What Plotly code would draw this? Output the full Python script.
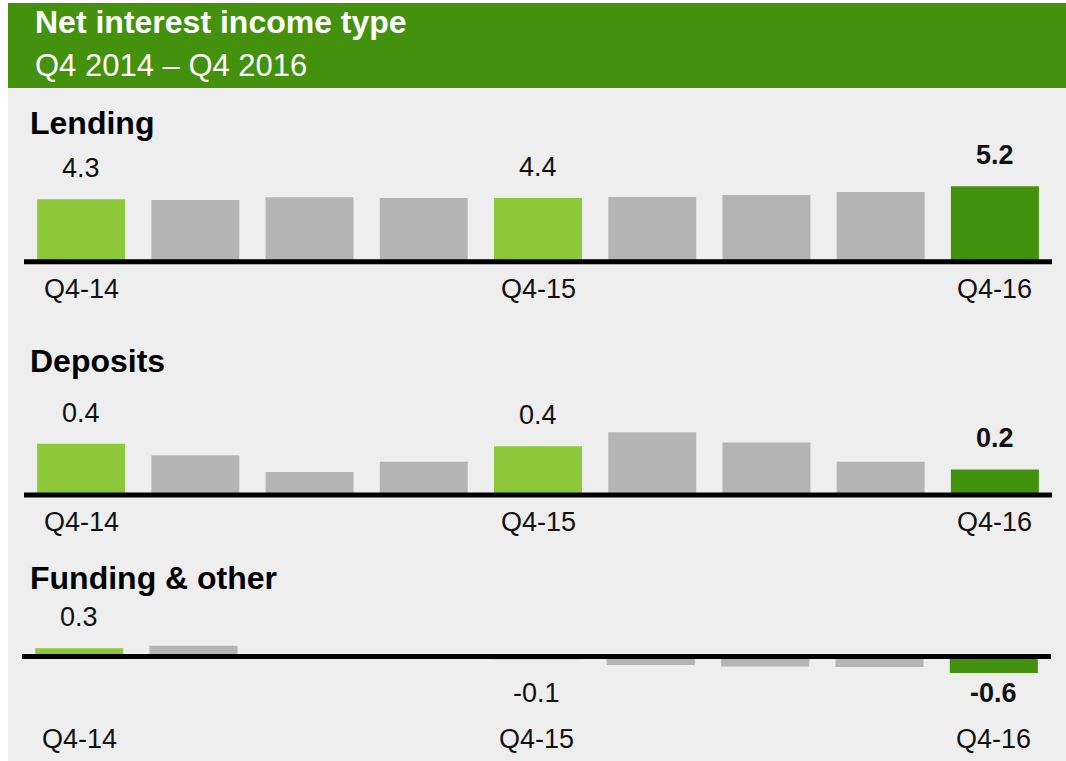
import plotly.graph_objects as go

# ---------------- data ----------------
quarters = ["Q4-14", "Q1-15", "Q2-15", "Q3-15", "Q4-15", "Q1-16", "Q2-16", "Q3-16", "Q4-16"]
shown_ticks = ["Q4-14", "Q4-15", "Q4-16"]
lending = [4.3, 4.25, 4.44, 4.39, 4.4, 4.46, 4.6, 4.81, 5.2]
deposits = [0.40, 0.31, 0.18, 0.26, 0.38, 0.49, 0.41, 0.26, 0.2]
funding = [0.3, 0.39, 0.0, 0.0, -0.1, -0.31, -0.36, -0.38, -0.6]
panel_titles = ["Lending", "Deposits", "Funding & other"]
title = "Net interest income type"
subtitle = "Q4 2014 – Q4 2016"

# ---------------- style ----------------
W, H = 1066, 761
FONT = "Liberation Sans, Arial, Helvetica, sans-serif"
BG = "#eeeeee"
HEADER = "#43910d"
LIGHT = "#8cc83a"
GRAY = "#b4b4b4"
DARK = "#43920d"
highlight = {"Q4-14": LIGHT, "Q4-15": LIGHT, "Q4-16": DARK}
colors = [highlight.get(q, GRAY) for q in quarters]


def py(p):
    return 1 - p / H


# panel geometry: (values, zero px, px per unit, top px, bottom px, x-left px, x-right px, title baseline px, tick offset px)
panels = [
    (lending, 261.7, 14.5, 140, 310, 24, 1052, 134, 27),
    (deposits, 495.0, 128.0, 385, 540, 24, 1052, 372, 27),
    (funding, 656.5, 27.5, 600, 755, 22, 1051, 589, 82.5),
]

fig = go.Figure()
annotations = []
shapes = []

# backgrounds
shapes.append(dict(type="rect", xref="paper", yref="paper", x0=8 / W, x1=1, y0=0, y1=py(3),
                   fillcolor=BG, line=dict(width=0), layer="below"))
shapes.append(dict(type="rect", xref="paper", yref="paper", x0=8 / W, x1=1, y0=py(88), y1=py(3),
                   fillcolor=HEADER, line=dict(width=0), layer="below"))

annotations.append(dict(text="<b>" + title + "</b>", xref="paper", yref="paper", x=33 / W, y=py(33 - 0.358 * 32),
                        xanchor="left", yanchor="middle", showarrow=False,
                        font=dict(family=FONT, size=32, color="white")))
annotations.append(dict(text=subtitle, xref="paper", yref="paper", x=33 / W, y=py(76.7 - 0.358 * 31),
                        xanchor="left", yanchor="middle", showarrow=False,
                        font=dict(family=FONT, size=31, color="white")))

layout_axes = {}
for i, (vals, zero, scale, top, bot, xl, xr, tb, tick_off) in enumerate(panels):
    n = "" if i == 0 else str(i + 1)
    xa, ya = "x" + n, "y" + n
    fig.add_trace(go.Bar(x=quarters, y=vals, marker=dict(color=colors, line=dict(width=0)),
                         width=0.77, xaxis=xa, yaxis=ya, hoverinfo="skip", showlegend=False))
    layout_axes["xaxis" + n] = dict(domain=[xl / W, xr / W], range=[-0.5, 8.5], type="category",
                                    visible=False, fixedrange=True, anchor=ya)
    layout_axes["yaxis" + n] = dict(domain=[py(bot), py(top)],
                                    range=[-(bot - zero) / scale, (zero - top) / scale],
                                    visible=False, fixedrange=True, anchor=xa)
    # baseline
    shapes.append(dict(type="line", xref=xa, yref=ya, x0=-0.5, x1=8.5, y0=0, y1=0,
                       line=dict(color="black", width=5), layer="above"))
    # panel title
    annotations.append(dict(text="<b>" + panel_titles[i] + "</b>", xref="paper", yref="paper",
                            x=28 / W, y=py(tb - 0.358 * 32), xanchor="left", yanchor="middle",
                            showarrow=False, font=dict(family=FONT, size=32, color="black")))
    # value labels and tick labels
    vmin = min(vals)
    for q in shown_ticks:
        v = vals[quarters.index(q)]
        txt = f"{v:.1f}"
        if q == quarters[-1]:
            txt = "<b>" + txt + "</b>"
        if v >= 0:
            yy, sh = v, 31
        else:
            yy, sh = vmin, -20
        annotations.append(dict(text=txt, xref=xa, yref=ya, x=q, y=yy, yshift=sh,
                                xanchor="center", yanchor="middle", showarrow=False,
                                font=dict(family=FONT, size=27, color="#111111")))
        annotations.append(dict(text=q, xref=xa, yref=ya, x=q, y=0, yshift=-tick_off,
                                xanchor="center", yanchor="middle", showarrow=False,
                                font=dict(family=FONT, size=27, color="#111111")))

fig.update_layout(
    width=W, height=H, margin=dict(l=0, r=0, t=0, b=0),
    paper_bgcolor="white", plot_bgcolor="rgba(0,0,0,0)",
    shapes=shapes, annotations=annotations, bargap=0.23,
    **layout_axes,
)

fig.write_html("out.html", config={"displayModeBar": False})
